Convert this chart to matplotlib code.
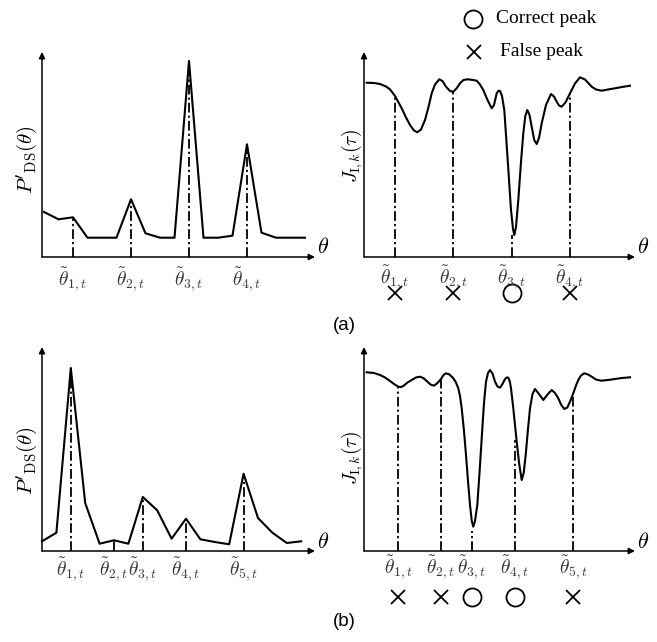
import numpy as np
import matplotlib
matplotlib.use("Agg")
import matplotlib.pyplot as plt

plt.rcParams['mathtext.fontset'] = 'cm'
plt.rcParams['lines.scale_dashes'] = False

# ---------------- data ----------------
# (a) left: P'_DS(theta) on a regular theta grid (index)
a_left_x = list(range(19))
a_left_y = [45, 37.7, 39.7, 19.3, 19.3, 19.3, 57.7, 23.7, 19.3, 19.3,
            196, 19.3, 19.3, 21.3, 112.7, 24.3, 19.3, 19.3, 19.3]
a_left_peaks = [2, 6, 10, 14]
a_left_labels = [r'$\tilde{\theta}_{1,t}$', r'$\tilde{\theta}_{2,t}$',
                 r'$\tilde{\theta}_{3,t}$', r'$\tilde{\theta}_{4,t}$']

# (b) left
b_left_x = list(range(19))
b_left_y = [9.7, 18.3, 183, 48, 7.3, 10.7, 7.3, 54, 40.7, 12.3,
            32.3, 11.7, 9, 6.7, 77.3, 33, 18.3, 8, 9.7]
b_left_peaks = [2, 5, 7, 10, 14]
b_left_labels = [r'$\tilde{\theta}_{1,t}$', r'$\tilde{\theta}_{2,t}$',
                 r'$\tilde{\theta}_{3,t}$', r'$\tilde{\theta}_{4,t}$',
                 r'$\tilde{\theta}_{5,t}$']

# (a) right: J_{I,k}(tau)
a_right_x = [2.7, 10, 16, 22, 26, 31, 37.7, 42, 46, 50, 53.3, 57, 61, 64.5,
             67.7, 71, 75.3, 78.5, 82, 86, 89.3, 92.5, 96, 99.5, 103.3, 108,
             112.7, 116, 119.3, 123.5, 127.7, 130, 132.7, 134.5, 136, 138,
             140.3, 143.7, 147, 149, 150.3, 152, 154.3, 157, 159.3, 161.3,
             163.3, 165.5, 167.7, 170.2, 172.7, 175, 177.7, 182, 187, 190,
             192.7, 195, 197.7, 201.5, 206, 211, 216, 221, 227.7, 232, 237.7,
             244, 251, 258, 266]
a_right_y = [174.3, 174, 173, 170.5, 167.7, 161, 148.7, 139.5, 132, 126.5,
             124.7, 127.5, 137, 150, 163.7, 172.5, 177.7, 176, 170.3, 166,
             165.3, 168.5, 173.7, 177, 177.7, 177.2, 176.3, 172.5, 167, 157,
             148.7, 152, 163.7, 166.3, 166, 161, 147, 97, 47, 28, 22, 30, 57,
             95, 123.7, 141, 147, 142, 130.3, 117, 113, 119, 133.7, 152, 163,
             160.5, 155.3, 151.5, 150.3, 154.5, 163.7, 173.5, 179.7, 177.5,
             170.3, 167.5, 166.3, 167.5, 168.7, 170, 171.3]
a_right_peaks = [31, 89.3, 148, 206]
a_right_tops = [161, 165.3, 22, 163.7]
a_right_marks = ['x', 'x', 'o', 'x']

# (b) right
b_right_x = [2.7, 10, 16, 21, 26, 30, 34.3, 37, 39.3, 43.5, 47.7, 52, 56,
             59.5, 62.7, 66.5, 70, 73.5, 77, 79.5, 82, 85.5, 89.3, 92, 94.3,
             96, 97.7, 100, 102, 104, 106, 107.8, 109.3, 111, 113.3, 115.5,
             117.7, 120, 122, 124, 126, 128.5, 131, 133.5, 136, 138.5, 141,
             142.8, 144.3, 145.8, 147, 149.3, 151, 152.7, 155.2, 157.7, 159.7,
             161.7, 164, 166, 168.5, 171, 175, 179.3, 183.5, 187.7, 191,
             194.3, 197.3, 200.3, 203.3, 206, 209.3, 212, 214.3, 217, 220.3,
             224, 227.7, 232, 237, 244, 251, 258, 266]
b_right_y = [178.7, 178, 176, 173.5, 170, 167, 164.3, 164, 165, 168.5, 171,
             173.5, 174.3, 172.8, 170, 166.5, 165.3, 168, 172, 176, 177.7,
             176.5, 172.7, 168.5, 162.7, 155, 142.7, 120, 96, 70, 46, 30, 24.3,
             30, 46, 78, 112.7, 148, 169.3, 178, 181, 177.5, 169.3, 164.5,
             163.3, 167, 172, 173.6, 173.3, 169.5, 162.7, 142.7, 126, 109.3,
             87, 71, 78, 96, 122, 142.7, 157, 162, 157, 151, 156.5, 161, 158,
             152.7, 146, 142, 143.5, 149.3, 157.7, 165.5, 171, 175.5, 177.7,
             176.5, 174.3, 171.5, 170.3, 171, 172, 173, 173.7]
b_right_peaks = [34.3, 77, 108, 151, 209.3]
b_right_tops = [164.3, 172, 20, 111, 157.7]
b_right_marks = ['x', 'x', 'o', 'o', 'x']

# ---------------- figure ----------------
W, H = 657, 642
fig = plt.figure(figsize=(W / 100, H / 100), dpi=100)


def box(x0, ytop, x1, ybot):
    return [x0 / W, 1 - ybot / H, (x1 - x0) / W, (ybot - ytop) / H]


DASH = (0, (7, 2.2, 1.6, 2.2))
LABEL_COLOR = '#3a3a3a'


def make_axes(rect, xlim, ylim):
    ax = fig.add_axes(rect)
    ax.set_xlim(*xlim)
    ax.set_ylim(*ylim)
    ax.axis('off')
    arrow = dict(arrowstyle='-|>', lw=1.1, color='k', mutation_scale=9,
                 shrinkA=0, shrinkB=0)
    ax.annotate('', xy=(1, 0), xytext=(0, 0), xycoords='axes fraction',
                textcoords='axes fraction', arrowprops=arrow)
    ax.annotate('', xy=(0, 1), xytext=(0, 0), xycoords='axes fraction',
                textcoords='axes fraction', arrowprops=arrow)
    return ax


def draw_panel(ax, x, y, peaks, tops, labels, label_y, marks=None, mark_y=None):
    ax.plot(x, y, color='k', lw=1.5, solid_joinstyle='round', clip_on=False)
    for px, top in zip(peaks, tops):
        ax.plot([px, px], [0, top], color='k', lw=1.3, linestyle=DASH,
                clip_on=False)
    for px, lab in zip(peaks, labels):
        ax.text(px, label_y, lab, ha='center', va='center', fontsize=14,
                color=LABEL_COLOR, clip_on=False)
    if marks is not None:
        for px, m in zip(peaks, marks):
            if m == 'o':
                ax.plot([px], [mark_y], marker='o', ms=13, mfc='none',
                        mec='k', mew=1.3, clip_on=False)
            else:
                ax.plot([px], [mark_y], marker='x', ms=9.5, mec='k',
                        mew=1.3, clip_on=False)


# (a) left
ax1 = make_axes(box(42, 52, 315, 257), (-0.138, 18.69), (0, 205))
draw_panel(ax1, a_left_x, a_left_y, a_left_peaks,
           [a_left_y[i] for i in a_left_peaks], a_left_labels, -23)

# (a) right
ax2 = make_axes(box(364, 52, 635, 257), (0, 271), (0, 205))
draw_panel(ax2, a_right_x, a_right_y, a_right_peaks, a_right_tops,
           a_left_labels, -21, a_right_marks, -36)

# (b) left
ax3 = make_axes(box(42, 347, 315, 551), (0, 18.96), (0, 204))
draw_panel(ax3, b_left_x, b_left_y, b_left_peaks,
           [b_left_y[i] for i in b_left_peaks], b_left_labels, -19)

# (b) right
ax4 = make_axes(box(364, 347, 635, 551), (0, 271), (0, 204))
draw_panel(ax4, b_right_x, b_right_y, b_right_peaks, b_right_tops,
           b_left_labels, -17, b_right_marks, -46)

# ---------------- overlay for free text / legend ----------------
ov = fig.add_axes([0, 0, 1, 1])
ov.set_xlim(0, W)
ov.set_ylim(H, 0)
ov.axis('off')

for yy in (160, 461):
    ov.text(27, yy, r"$P'_{\mathrm{DS}}(\theta)$", rotation=90, ha='center',
            va='center', fontsize=15)
for yy in (156, 458):
    ov.text(352, yy, r"$J_{\mathrm{I},k}(\tau)$", rotation=90, ha='center',
            va='center', fontsize=14)
for xx, yy in ((323, 247), (643, 247), (323, 542), (643, 542)):
    ov.text(xx, yy, r'$\theta$', ha='center', va='center', fontsize=16)

ov.text(344, 325, '(a)', ha='center', va='center', fontsize=13.5,
        family='Liberation Sans')
ov.text(344, 622, '(b)', ha='center', va='center', fontsize=13.5,
        family='Liberation Sans')

ov.plot([473], [18.5], marker='o', ms=13, mfc='none', mec='k', mew=1.3)
ov.plot([474], [51.7], marker='x', ms=9.5, mec='k', mew=1.3)
ov.text(496, 18.5, 'Correct peak', ha='left', va='center', fontsize=14,
        family='Liberation Serif')
ov.text(500, 51.7, 'False peak', ha='left', va='center', fontsize=14,
        family='Liberation Serif')

fig.savefig('out.png', dpi=100)
